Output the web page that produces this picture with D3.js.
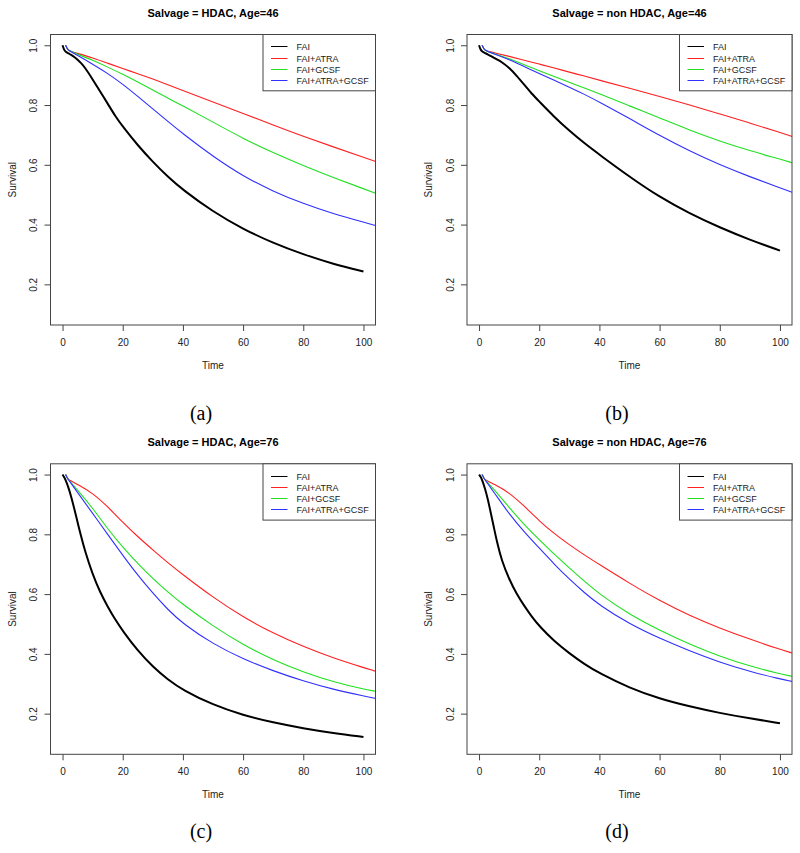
<!DOCTYPE html>
<html>
<head>
<meta charset="utf-8">
<script src="https://cdn.jsdelivr.net/npm/d3@7"></script>
<style>
  html, body { margin: 0; padding: 0; background: #fff; }
  svg { display: block; }
</style>
</head>
<body>
<script>
// ---------------- data ----------------
const panelTitles = [
  "Salvage = HDAC, Age=46",
  "Salvage = non HDAC, Age=46",
  "Salvage = HDAC, Age=76",
  "Salvage = non HDAC, Age=76"
];
const panelCaptions = ["(a)", "(b)", "(c)", "(d)"];
const seriesNames = ["FAI", "FAI+ATRA", "FAI+GCSF", "FAI+ATRA+GCSF"];
const seriesColors = ["#000000", "#ff2020", "#20e020", "#3030ff"];
const xTicks = [0, 20, 40, 60, 80, 100];
const yTicks = [0.2, 0.4, 0.6, 0.8, 1.0];
const xLabel = "Time";
const yLabel = "Survival";

// time grid of the FAI (black) curves
const timeFAI = [0, 0.5, 1, 2, 3, 4, 5, 6, 7.5, 10, 12.5, 15, 17.5, 20, 25, 30, 35, 40, 50, 60, 70, 80, 90, 100];
// time grid of the treatment curves
const timeTrt = [1, 1.5, 2, 5, 10, 15, 20, 25, 30, 35, 40, 50, 60, 70, 80, 90, 100, 104];

// (a) Salvage = HDAC, Age=46
const faiA  = [1.0, 0.985, 0.978, 0.973, 0.967, 0.96, 0.952, 0.942, 0.925, 0.886, 0.845, 0.805, 0.763, 0.728, 0.665, 0.61, 0.56, 0.516, 0.443, 0.385, 0.338, 0.3, 0.268, 0.243];
const atraA = [1.0, 0.99, 0.982, 0.973, 0.958, 0.94, 0.922, 0.905, 0.887, 0.868, 0.848, 0.81, 0.772, 0.733, 0.695, 0.66, 0.625, 0.611];
const gcsfA = [1.0, 0.99, 0.982, 0.97, 0.95, 0.927, 0.903, 0.877, 0.85, 0.823, 0.797, 0.743, 0.688, 0.64, 0.597, 0.557, 0.52, 0.505];
const bothA = [1.0, 0.99, 0.982, 0.966, 0.937, 0.906, 0.87, 0.829, 0.787, 0.745, 0.704, 0.628, 0.562, 0.511, 0.47, 0.436, 0.408, 0.397];

// (b) Salvage = non HDAC, Age=46
const faiB  = [1.0, 0.985, 0.979, 0.974, 0.969, 0.964, 0.958, 0.952, 0.944, 0.925, 0.898, 0.868, 0.838, 0.812, 0.76, 0.714, 0.672, 0.634, 0.56, 0.492, 0.437, 0.39, 0.349, 0.313];
const atraB = [1.0, 0.99, 0.982, 0.975, 0.963, 0.95, 0.937, 0.924, 0.91, 0.897, 0.883, 0.856, 0.829, 0.8, 0.77, 0.74, 0.708, 0.695];
const gcsfB = [1.0, 0.99, 0.982, 0.972, 0.955, 0.935, 0.915, 0.895, 0.876, 0.857, 0.838, 0.797, 0.757, 0.716, 0.679, 0.647, 0.619, 0.607];
const bothB = [1.0, 0.99, 0.982, 0.971, 0.952, 0.929, 0.905, 0.883, 0.86, 0.836, 0.81, 0.755, 0.698, 0.646, 0.6, 0.56, 0.523, 0.508];

// (c) Salvage = HDAC, Age=76
const faiC  = [1.0, 0.992, 0.982, 0.956, 0.922, 0.882, 0.84, 0.8, 0.742, 0.666, 0.606, 0.558, 0.515, 0.477, 0.41, 0.357, 0.314, 0.279, 0.229, 0.195, 0.17, 0.151, 0.135, 0.122];
const atraC = [1.0, 0.99, 0.982, 0.968, 0.938, 0.893, 0.84, 0.792, 0.748, 0.705, 0.665, 0.589, 0.523, 0.469, 0.424, 0.386, 0.354, 0.342];
const gcsfC = [1.0, 0.99, 0.982, 0.948, 0.888, 0.818, 0.757, 0.702, 0.652, 0.607, 0.565, 0.493, 0.43, 0.38, 0.339, 0.306, 0.282, 0.275];
const bothC = [1.0, 0.99, 0.982, 0.94, 0.87, 0.8, 0.73, 0.663, 0.603, 0.548, 0.501, 0.433, 0.383, 0.343, 0.309, 0.281, 0.259, 0.251];

// (d) Salvage = non HDAC, Age=76
const faiD  = [1.0, 0.993, 0.983, 0.953, 0.915, 0.867, 0.82, 0.773, 0.713, 0.65, 0.6, 0.561, 0.525, 0.493, 0.442, 0.402, 0.366, 0.335, 0.286, 0.25, 0.224, 0.202, 0.184, 0.168];
const atraD = [1.0, 0.99, 0.982, 0.968, 0.94, 0.895, 0.845, 0.802, 0.765, 0.731, 0.699, 0.636, 0.578, 0.528, 0.486, 0.449, 0.415, 0.403];
const gcsfD = [1.0, 0.99, 0.982, 0.95, 0.89, 0.832, 0.782, 0.733, 0.688, 0.643, 0.6, 0.532, 0.479, 0.432, 0.392, 0.359, 0.333, 0.325];
const bothD = [1.0, 0.99, 0.982, 0.94, 0.868, 0.808, 0.754, 0.70, 0.65, 0.605, 0.563, 0.50, 0.452, 0.41, 0.372, 0.341, 0.316, 0.308];

const panelFAI = [faiA, faiB, faiC, faiD];
const panelTrt = [[atraA, gcsfA, bothA], [atraB, gcsfB, bothB], [atraC, gcsfC, bothC], [atraD, gcsfD, bothD]];

// ---------------- layout ----------------
const W = 800, H = 853;
const colLeft = [50.5, 467];
const rowTop = [34.5, 463.8];
const plotW = 325, plotH = 290.5;
const captionY = [415, 833];
const captionX = [201, 617];
const FONT = "'Liberation Sans', Arial, Helvetica, sans-serif";

const svg = d3.select("body").append("svg")
  .attr("width", W).attr("height", H)
  .attr("font-family", FONT);

panelTitles.forEach((title, i) => {
  const col = i % 2, row = Math.floor(i / 2);
  const left = colLeft[col], top = rowTop[row];
  const x = d3.scaleLinear().domain([-4, 104]).range([left, left + plotW]);
  const y = d3.scaleLinear().domain([0.064, 1.036]).range([top + plotH, top]);
  const g = svg.append("g");

  const clipId = "clip" + i;
  g.append("clipPath").attr("id", clipId)
    .append("rect").attr("x", left).attr("y", top).attr("width", plotW).attr("height", plotH);

  const line = (ts) => d3.line()
    .x((d, k) => x(ts[k]))
    .y(d => y(d))
    .curve(d3.curveBasis);

  const curves = g.append("g").attr("clip-path", `url(#${clipId})`);
  panelTrt[i].forEach((vals, s) => {
    curves.append("path")
      .attr("d", line(timeTrt)(vals))
      .attr("fill", "none")
      .attr("stroke", seriesColors[s + 1])
      .attr("stroke-width", 1.1);
  });
  curves.append("path")
    .attr("d", line(timeFAI)(panelFAI[i]))
    .attr("fill", "none")
    .attr("stroke", seriesColors[0])
    .attr("stroke-width", 2);

  // axes
  const xAxis = g.append("g")
    .attr("transform", `translate(0,${top + plotH})`)
    .call(d3.axisBottom(x).tickValues(xTicks).tickFormat(d3.format("d")).tickSize(6).tickPadding(8).tickSizeOuter(0));
  xAxis.select(".domain").remove();
  xAxis.selectAll(".tick line").attr("stroke", "#444");
  xAxis.selectAll(".tick text").attr("font-size", 10).attr("fill", "#222").attr("font-family", FONT);

  const yAxis = g.append("g")
    .attr("transform", `translate(${left},0)`)
    .call(d3.axisLeft(y).tickValues(yTicks).tickFormat(d3.format(".1f")).tickSize(6).tickSizeOuter(0));
  yAxis.select(".domain").remove();
  yAxis.selectAll(".tick line").attr("stroke", "#444");
  yAxis.selectAll(".tick text")
    .attr("x", null).attr("dy", null)
    .attr("transform", "translate(-13.5,0) rotate(-90)")
    .attr("text-anchor", "middle")
    .attr("font-size", 10).attr("fill", "#222").attr("font-family", FONT);

  // box
  g.append("rect")
    .attr("x", left).attr("y", top).attr("width", plotW).attr("height", plotH)
    .attr("fill", "none").attr("stroke", "#444").attr("stroke-width", 1);

  // title
  g.append("text")
    .attr("x", left + plotW / 2).attr("y", top - 18)
    .attr("text-anchor", "middle")
    .attr("font-size", 11).attr("font-weight", "bold").attr("fill", "#000")
    .text(title);

  // axis labels
  g.append("text")
    .attr("x", left + plotW / 2).attr("y", top + plotH + 43.5)
    .attr("text-anchor", "middle")
    .attr("font-size", 10).attr("fill", "#222")
    .text(xLabel);
  g.append("text")
    .attr("transform", `translate(${left - 34.8},${top + plotH / 2}) rotate(-90)`)
    .attr("text-anchor", "middle")
    .attr("font-size", 10).attr("fill", "#222")
    .text(yLabel);

  // legend (top right)
  const lw = 112.5, lh = 56.3;
  const lx = left + plotW - lw, ly = top;
  const lg = g.append("g");
  lg.append("rect").attr("x", lx).attr("y", ly).attr("width", lw).attr("height", lh)
    .attr("fill", "#fff").attr("stroke", "#444").attr("stroke-width", 1);
  seriesNames.forEach((name, s) => {
    const cy = Math.round(ly + 11.7 + s * 11.33) + 0.5;
    lg.append("line")
      .attr("x1", lx + 8).attr("x2", lx + 24.5)
      .attr("y1", cy).attr("y2", cy)
      .attr("stroke", seriesColors[s]).attr("stroke-width", 1);
    lg.append("text")
      .attr("x", lx + 33.5).attr("y", cy).attr("dy", "0.35em")
      .attr("font-size", 9).attr("fill", "#222")
      .text(name);
  });

  // caption
  svg.append("text")
    .attr("x", captionX[col]).attr("y", captionY[row] + 5)
    .attr("text-anchor", "middle")
    .attr("font-family", "'Liberation Serif', 'DejaVu Serif', serif")
    .attr("font-size", 20).attr("fill", "#000")
    .text(panelCaptions[i]);
});
</script>
</body>
</html>
